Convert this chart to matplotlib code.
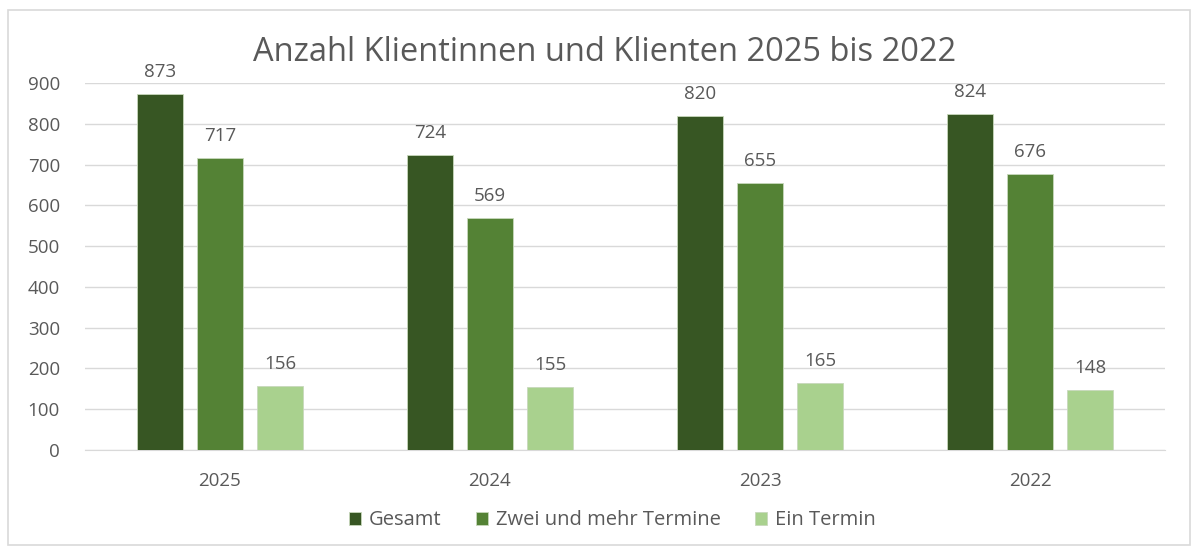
import matplotlib.pyplot as plt
import matplotlib.patches as patches
import numpy as np

# =========================
# Data
# =========================
years = ["2025", "2024", "2023", "2022"]
gesamt = [873, 724, 820, 824]
zwei_mehr = [717, 569, 655, 676]
ein_termin = [156, 155, 165, 148]

series = [
    ("Gesamt", gesamt, "#375623"),
    ("Zwei und mehr Termine", zwei_mehr, "#548235"),
    ("Ein Termin", ein_termin, "#A9D18E"),
]

plt.rcParams["font.family"] = ["Open Sans", "DejaVu Sans"]
text_col = "#595959"

fig = plt.figure(figsize=(11.98, 5.49), dpi=100)
ax = fig.add_axes([85 / 1198, 1 - 450 / 549, 1080 / 1198, 367 / 549])

# chart border
fig.patches.append(patches.Rectangle((8 / 1198, 4 / 549), 1182 / 1198, 535 / 549,
                                     transform=fig.transFigure, fill=False,
                                     edgecolor="#d9d9d9", linewidth=1.2))

x = np.arange(len(years))
width = 0.17
step = 0.222
for i, (name, vals, col) in enumerate(series):
    pos = x + (i - 1) * step
    bars = ax.bar(pos, vals, width, color=col, edgecolor="#c8d8bc", linewidth=0.6,
                  label=name, zorder=3)
    for b, v in zip(bars, vals):
        ax.text(b.get_x() + b.get_width() / 2, v + 32, str(v), ha="center",
                va="bottom", fontsize=13.5, color=text_col)

ax.set_xlim(-0.5, len(years) - 0.5)
ax.set_ylim(0, 900)
ax.set_yticks(range(0, 901, 100))
ax.set_xticks(x)
ax.set_xticklabels(years)
ax.yaxis.grid(True, color="#d9d9d9", linewidth=1, zorder=0)
ax.tick_params(axis="both", length=0, labelsize=13.5, colors=text_col)
ax.tick_params(axis="x", pad=16)
ax.tick_params(axis="y", pad=18)
for s in ["top", "right", "left"]:
    ax.spines[s].set_visible(False)
ax.spines["bottom"].set_color("#d9d9d9")

fig.text(0.505, 0.905, "Anzahl Klientinnen und Klienten 2025 bis 2022",
         ha="center", va="center", fontsize=23.5, color=text_col)

leg = fig.legend(loc="center", bbox_to_anchor=(0.511, 0.052), ncol=3,
                 frameon=False, fontsize=14.5, handlelength=0.6,
                 handleheight=0.6, columnspacing=1.7, handletextpad=0.4)
for t in leg.get_texts():
    t.set_color(text_col)

fig.savefig("out.png", dpi=100)
